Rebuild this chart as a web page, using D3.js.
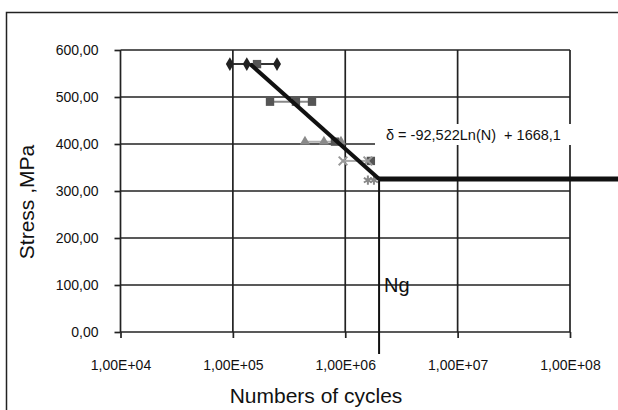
<!DOCTYPE html>
<html>
<head>
<meta charset="utf-8">
<script src="https://cdn.jsdelivr.net/npm/d3@7"></script>
<style>
  body { margin: 0; background: #fff; }
  svg { display: block; font-family: "Liberation Sans", Arial, sans-serif; }
</style>
</head>
<body>
<svg width="618" height="410"></svg>
<script>
// test data
const diamondN = [9.4e4, 1.33e5, 2.47e5];
const diamondS = [570, 570, 570];
const squareN = [2.14e5, 3.64e5, 5.06e5];
const squareS = [490, 490, 490];
const triangleN = [4.38e5, 6.46e5, 9.16e5];
const triangleS = [405, 405, 405];
const crossN = [9.55e5, 1.59e6];
const crossS = [364, 364];
const starN = [1.59e6, 1.8e6];
const starS = [323, 323];
const meanN = [1.64e5, 8.1e5, 1.69e6];
const meanS = [570, 405, 364];

// fit: δ = a·ln(N) + b, knee at Ng
const fitA = -92.522;
const fitB = 1668.1;
const fitStartN = 1.43e5;
const Ng = 2e6;
const limitEndN = 3e8;

const xTicks = [1e4, 1e5, 1e6, 1e7, 1e8];
const yTicks = [0, 100, 200, 300, 400, 500, 600];

const svg = d3.select("svg");
svg.append("rect").attr("width", 618).attr("height", 410).attr("fill", "#fff");

// outer chart frame
svg.append("rect")
  .attr("x", 6.5).attr("y", 12.5)
  .attr("width", 640).attr("height", 420)
  .attr("fill", "none").attr("stroke", "#222").attr("stroke-width", 1.5);

const x = d3.scaleLog().domain([1e4, 1e8]).range([120.5, 570]);
const y = d3.scaleLinear().domain([0, 600]).range([332, 50]);

const fmtY = d => d3.format(".2f")(d).replace(".", ",");
const fmtX = d => `1,00E+${String(Math.round(Math.log10(d))).padStart(2, "0")}`;

// grid
const grid = svg.append("g").attr("stroke", "#222").attr("stroke-width", 1.7);
grid.selectAll(".h").data(yTicks).join("line")
  .attr("x1", x.range()[0]).attr("x2", x.range()[1])
  .attr("y1", d => y(d)).attr("y2", d => y(d));
grid.selectAll(".v").data(xTicks).join("line")
  .attr("x1", d => x(d)).attr("x2", d => x(d))
  .attr("y1", y.range()[1]).attr("y2", y.range()[0]);

const yAxis = svg.append("g")
  .attr("transform", `translate(${x.range()[0]},0)`)
  .call(d3.axisLeft(y).tickValues(yTicks).tickFormat(fmtY).tickSize(6).tickPadding(16));
const xAxis = svg.append("g")
  .attr("transform", `translate(0,${y.range()[0]})`)
  .call(d3.axisBottom(x).tickValues(xTicks).tickFormat(fmtX).tickSize(6).tickPadding(22));

[yAxis, xAxis].forEach(g => {
  g.select(".domain").remove();
  g.selectAll("line").attr("stroke", "#222").attr("stroke-width", 1.7);
  g.selectAll("text").attr("fill", "#111").attr("font-size", 14)
    .attr("font-family", "Liberation Sans, Arial, sans-serif");
});

const pts = (ns, ss) => ns.map((n, i) => [x(n), y(ss[i])]);
const line = d3.line();

// series connecting lines
[
  [diamondN, diamondS, "#333", 2],
  [squareN, squareS, "#888", 2],
  [triangleN, triangleS, "#b0b0b0", 2],
  [[crossN[0], meanN[2]], [crossS[0], meanS[2]], "#aaa", 2],
].forEach(([ns, ss, c, w]) =>
  svg.append("path").attr("d", line(pts(ns, ss)))
    .attr("fill", "none").attr("stroke", c).attr("stroke-width", w));

const drawMarks = (ns, ss, type, size, fill, stroke) =>
  svg.append("g").selectAll("path").data(pts(ns, ss)).join("path")
    .attr("transform", d => `translate(${d[0]},${d[1]})`)
    .attr("d", d3.symbol(type, size))
    .attr("fill", fill)
    .attr("stroke", stroke || "none")
    .attr("stroke-width", 2);

drawMarks(triangleN, triangleS, d3.symbolTriangle, 45, "#8a8a8a");
drawMarks(squareN, squareS, d3.symbolSquare, 70, "#555");
drawMarks(meanN, meanS, d3.symbolSquare, 70, "#555");
drawMarks(crossN, crossS, d3.symbolX, 50, "none", "#999");
drawMarks(starN, starS, d3.symbolAsterisk, 60, "none", "#888");
drawMarks(diamondN, diamondS, d3.symbolDiamond, 55, "#222");

// fit line and endurance limit
const fit = n => fitA * Math.log(n) + fitB;
const fitNs = [fitStartN, Ng];
svg.append("path")
  .attr("d", line(fitNs.map(n => [x(n), y(fit(n))])))
  .attr("fill", "none").attr("stroke", "#111").attr("stroke-width", 4);
svg.append("path")
  .attr("d", line([Ng, limitEndN].map(n => [x(n), y(fit(Ng))])))
  .attr("fill", "none").attr("stroke", "#111").attr("stroke-width", 5);

// Ng marker line
svg.append("line")
  .attr("x1", x(Ng)).attr("x2", x(Ng))
  .attr("y1", y(fit(Ng))).attr("y2", y.range()[0] + 22)
  .attr("stroke", "#111").attr("stroke-width", 2);
svg.append("text")
  .attr("x", x(Ng) + 5).attr("y", y(100) + 7)
  .attr("font-size", 20).attr("fill", "#111").text("Ng");

// equation label with white box
svg.append("rect")
  .attr("x", 375).attr("y", 124).attr("width", 200).attr("height", 21)
  .attr("fill", "#fff");
svg.append("text")
  .attr("x", 386).attr("y", 140)
  .attr("font-size", 14.5).attr("fill", "#111")
  .style("white-space", "pre")
  .text("δ = -92,522Ln(N)  + 1668,1");

// axis titles
svg.append("text")
  .attr("x", 316).attr("y", 403).attr("text-anchor", "middle")
  .attr("font-size", 21).attr("fill", "#111").text("Numbers of cycles");
svg.append("text")
  .attr("transform", "translate(34,202) rotate(-90)").attr("text-anchor", "middle")
  .attr("font-size", 21).attr("fill", "#111")
  .style("white-space", "pre")
  .text("Stress ,MPa");
</script>
</body>
</html>
